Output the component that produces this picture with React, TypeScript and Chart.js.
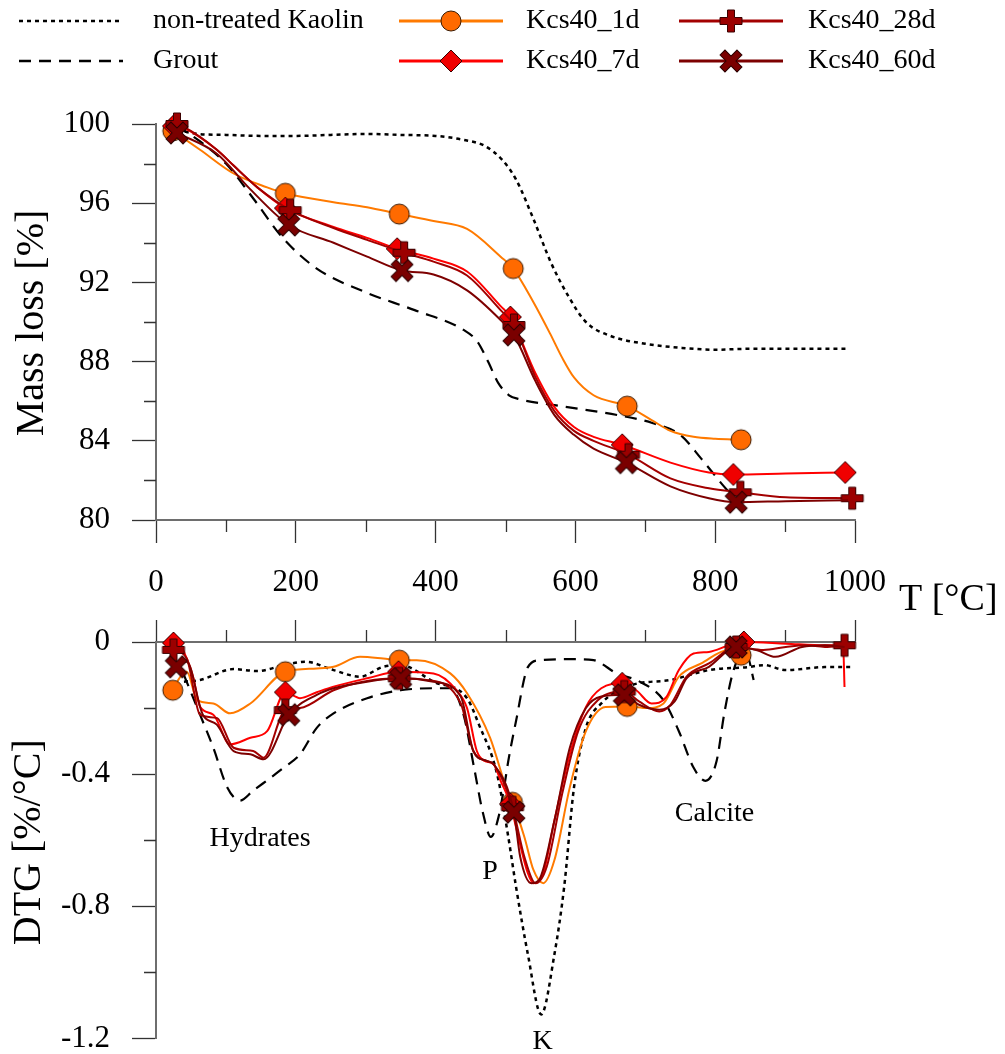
import React, { useEffect, useRef } from 'react';
import { Chart, registerables } from 'chart.js';

Chart.register(...registerables);

const FONT = "'Liberation Serif', 'Times New Roman', Times, serif";

// ---------------- Labels ----------------
const seriesLabels = ['non-treated Kaolin', 'Grout', 'Kcs40_1d', 'Kcs40_7d', 'Kcs40_28d', 'Kcs40_60d'];
const massTitle = 'Mass loss [%]';
const dtgTitle = 'DTG [%/°C]';
const tempTitle = 'T [°C]';
const annotationLabels = ['Hydrates', 'P', 'K', 'Calcite'];
const annotationT = [149, 478, 553, 799];
const annotationV = [-0.617, -0.717, -1.233, -0.541];

// ---------------- Tick values ----------------
const tempMin = 0, tempMax = 1000, tempStep = 200;
const minorTempTicks = [100, 300, 500, 700, 900];
const massMin = 80, massMax = 100, massStep = 4;
const minorMassTicks = [82, 86, 90, 94, 98];
const dtgMin = -1.2, dtgMax = 0, dtgStep = 0.4;
const minorDtgTicks = [-0.2, -0.6, -1.0];

// ---------------- Top panel: mass loss [%] ----------------
const kaolinMassT = [30, 60, 100, 150, 200, 250, 300, 350, 400, 440, 470, 495, 515, 540, 565, 590, 615, 650, 700, 750, 800, 850, 900, 950, 990];
const kaolinMass = [99.7, 99.5, 99.45, 99.4, 99.4, 99.45, 99.5, 99.45, 99.4, 99.2, 98.9, 98.2, 97.2, 95.2, 93.0, 91.3, 90.0, 89.3, 88.9, 88.7, 88.6, 88.65, 88.65, 88.65, 88.65];

const groutMassT = [30, 60, 100, 140, 180, 230, 300, 370, 440, 460, 475, 490, 505, 520, 570, 660, 710, 750, 780, 810, 820];
const groutMass = [99.9, 99.2, 98.0, 96.2, 94.3, 92.7, 91.5, 90.6, 89.6, 89.0, 88.0, 86.9, 86.3, 86.1, 85.8, 85.3, 84.9, 84.3, 83.1, 81.8, 81.4];

const d1MassT = [24, 63, 111, 159, 185, 254, 302, 348, 397, 445, 493, 511, 540, 564, 581, 598, 626, 674, 709, 736, 769, 800, 837];
const d1Mass = [99.65, 98.7, 97.5, 96.8, 96.5, 96.05, 95.8, 95.45, 95.1, 94.7, 93.3, 92.7, 91.0, 89.4, 88.2, 87.2, 86.3, 85.75, 85.05, 84.5, 84.2, 84.1, 84.05];
const d1MassMarks = [24, 185, 348, 511, 674, 837];

const d7MassT = [25, 40, 87, 111, 145, 185, 254, 302, 345, 397, 445, 493, 507, 543, 570, 598, 626, 667, 736, 791, 826, 901, 986];
const d7Mass = [99.9, 99.8, 98.7, 97.9, 96.8, 95.75, 94.8, 94.25, 93.7, 93.2, 92.55, 90.8, 90.25, 87.4, 85.7, 84.7, 84.2, 83.8, 82.9, 82.4, 82.3, 82.35, 82.4];
const d7MassMarks = [25, 185, 345, 507, 667, 826, 986];

const d28MassT = [30, 40, 87, 111, 145, 192, 254, 302, 355, 397, 445, 493, 512, 543, 570, 598, 626, 676, 736, 791, 836, 901, 996];
const d28Mass = [100.0, 99.85, 98.7, 97.9, 96.8, 95.65, 94.75, 94.15, 93.5, 93.05, 92.35, 90.6, 89.85, 87.2, 85.5, 84.5, 84.0, 83.3, 82.1, 81.6, 81.4, 81.15, 81.1];
const d28MassMarks = [30, 192, 355, 512, 676, 836, 996];

const d60MassT = [30, 87, 135, 190, 254, 302, 352, 397, 445, 493, 512, 543, 570, 598, 626, 673, 736, 791, 830, 901, 990];
const d60Mass = [99.55, 98.5, 96.7, 94.9, 94.0, 93.3, 92.6, 92.4, 91.6, 90.1, 89.35, 87.0, 85.3, 84.3, 83.6, 82.9, 81.7, 81.1, 80.9, 80.95, 81.0];
const d60MassMarks = [30, 190, 352, 512, 673, 830];

// ---------------- Bottom panel: DTG [%/°C] ----------------
const kaolinDtgT = [40, 63, 111, 145, 183, 214, 254, 292, 325, 350, 397, 445, 462, 488, 504, 515, 532, 551, 570, 584, 598, 615, 637, 681, 736, 791, 846, 870, 901, 957, 996];
const kaolinDtg = [-0.12, -0.115, -0.082, -0.088, -0.07, -0.06, -0.085, -0.105, -0.075, -0.07, -0.12, -0.17, -0.25, -0.4, -0.59, -0.74, -0.945, -1.127, -0.945, -0.74, -0.44, -0.26, -0.186, -0.13, -0.115, -0.085, -0.076, -0.07, -0.085, -0.076, -0.076];

const groutDtgT = [40, 63, 82, 102, 120, 139, 183, 206, 230, 254, 302, 350, 397, 421, 440, 455, 468, 479, 490, 498, 504, 515, 532, 549, 598, 626, 659, 692, 726, 748, 769, 786, 802, 813, 825, 836, 846, 855];
const groutDtg = [-0.1, -0.22, -0.32, -0.44, -0.48, -0.45, -0.38, -0.34, -0.26, -0.216, -0.17, -0.146, -0.14, -0.14, -0.22, -0.38, -0.52, -0.59, -0.53, -0.44, -0.36, -0.24, -0.076, -0.055, -0.052, -0.055, -0.095, -0.12, -0.176, -0.27, -0.38, -0.42, -0.36, -0.216, -0.095, -0.045, -0.045, -0.115];

const d1DtgT = [24, 35, 44, 59, 82, 106, 135, 185, 230, 254, 292, 325, 348, 373, 421, 445, 478, 504, 510, 527, 540, 554, 570, 592, 615, 643, 674, 703, 726, 748, 780, 819, 837, 846];
const d1Dtg = [-0.146, -0.105, -0.09, -0.176, -0.186, -0.216, -0.186, -0.09, -0.08, -0.075, -0.045, -0.05, -0.055, -0.055, -0.095, -0.155, -0.29, -0.46, -0.485, -0.59, -0.69, -0.73, -0.66, -0.44, -0.27, -0.197, -0.195, -0.2, -0.186, -0.105, -0.065, -0.024, -0.04, -0.04];
const d1DtgMarks = [24, 185, 348, 510, 674, 837];

const d7DtgT = [25, 30, 44, 53, 63, 82, 106, 135, 159, 185, 206, 230, 254, 302, 347, 397, 430, 445, 459, 470, 483, 493, 507, 515, 532, 540, 554, 570, 592, 615, 637, 667, 687, 709, 730, 748, 769, 791, 820, 841, 901, 957, 983, 985];
const d7Dtg = [-0.003, 0, -0.05, -0.105, -0.196, -0.22, -0.31, -0.29, -0.27, -0.152, -0.17, -0.152, -0.135, -0.11, -0.09, -0.095, -0.146, -0.2, -0.33, -0.36, -0.37, -0.42, -0.49, -0.56, -0.7, -0.73, -0.7, -0.54, -0.34, -0.197, -0.14, -0.125, -0.146, -0.186, -0.167, -0.085, -0.035, -0.03, -0.01, 0, -0.005, -0.01, -0.01, -0.136];
const d7DtgMarks = [25, 185, 347, 507, 667, 841];

const d28DtgT = [25, 44, 63, 87, 111, 139, 154, 185, 206, 254, 302, 348, 387, 436, 454, 473, 483, 510, 527, 543, 559, 581, 604, 632, 670, 691, 720, 736, 759, 791, 830, 869, 901, 929, 957, 985];
const d28Dtg = [-0.024, -0.05, -0.22, -0.23, -0.32, -0.33, -0.35, -0.206, -0.2, -0.146, -0.118, -0.11, -0.115, -0.186, -0.33, -0.36, -0.37, -0.5, -0.65, -0.73, -0.68, -0.46, -0.27, -0.176, -0.15, -0.18, -0.21, -0.19, -0.105, -0.065, -0.015, -0.024, -0.015, -0.01, -0.015, -0.01];
const d28DtgMarks = [25, 185, 348, 510, 670, 830, 985];

const d60DtgT = [29, 44, 67, 87, 111, 135, 154, 190, 230, 254, 302, 350, 397, 436, 454, 473, 483, 512, 521, 537, 548, 570, 592, 615, 637, 670, 691, 720, 742, 759, 791, 830, 860, 886, 924, 957, 985];
const d60Dtg = [-0.075, -0.06, -0.22, -0.25, -0.33, -0.34, -0.355, -0.22, -0.16, -0.14, -0.12, -0.11, -0.12, -0.165, -0.33, -0.36, -0.37, -0.515, -0.65, -0.73, -0.72, -0.54, -0.32, -0.2, -0.165, -0.16, -0.19, -0.205, -0.18, -0.11, -0.075, -0.015, -0.025, -0.045, -0.015, -0.01, -0.015];
const d60DtgMarks = [29, 190, 350, 512, 670, 830];

// ---------------- Styles ----------------
const kaolinColor = '#000000';
const groutColor = '#000000';
const d1Color = '#FF7A00';
const d7Color = '#FF0000';
const d28Color = '#A30000';
const d60Color = '#7D0000';
const kaolinDash = [4, 4];
const groutDash = [12, 8];
const AXIS_COLOR = '#6e6e6e';
const TICK_COLOR = '#333333';

type Markers = { circle: HTMLCanvasElement; diamond: HTMLCanvasElement; plus: HTMLCanvasElement; cross: HTMLCanvasElement };

function makeCanvas(size: number) {
  const c = document.createElement('canvas');
  c.width = size;
  c.height = size;
  return c;
}

function makeMarkers(): Markers {
  const circle = makeCanvas(24);
  {
    const g = circle.getContext('2d')!;
    g.beginPath();
    g.arc(12, 12, 10, 0, Math.PI * 2);
    g.fillStyle = '#FF6A00';
    g.fill();
    g.lineWidth = 1;
    g.strokeStyle = '#3a1a00';
    g.stroke();
  }
  const diamond = makeCanvas(26);
  {
    const g = diamond.getContext('2d')!;
    g.beginPath();
    g.moveTo(13, 2);
    g.lineTo(24, 13);
    g.lineTo(13, 24);
    g.lineTo(2, 13);
    g.closePath();
    g.fillStyle = '#F00000';
    g.fill();
    g.lineWidth = 1;
    g.strokeStyle = '#3a0000';
    g.stroke();
  }
  const plusPath = (g: CanvasRenderingContext2D, h: number, w: number) => {
    g.beginPath();
    g.moveTo(-w, -h); g.lineTo(w, -h); g.lineTo(w, -w); g.lineTo(h, -w);
    g.lineTo(h, w); g.lineTo(w, w); g.lineTo(w, h); g.lineTo(-w, h);
    g.lineTo(-w, w); g.lineTo(-h, w); g.lineTo(-h, -w); g.lineTo(-w, -w);
    g.closePath();
  };
  const plus = makeCanvas(26);
  {
    const g = plus.getContext('2d')!;
    g.translate(13, 13);
    plusPath(g, 11, 3.5);
    g.fillStyle = '#9C0000';
    g.fill();
    g.lineWidth = 1;
    g.strokeStyle = '#3a0000';
    g.stroke();
  }
  const cross = makeCanvas(26);
  {
    const g = cross.getContext('2d')!;
    g.translate(13, 13);
    g.rotate(Math.PI / 4);
    plusPath(g, 12, 3.5);
    g.fillStyle = '#7A0000';
    g.fill();
    g.lineWidth = 1;
    g.strokeStyle = '#2a0000';
    g.stroke();
  }
  return { circle, diamond, plus, cross };
}

function lineDs(label: string, t: number[], v: number[], color: string, width: number, dash: number[], marks: number[], img: any, order: number) {
  return {
    label,
    data: t.map((x, i) => ({ x, y: v[i] })),
    borderColor: color,
    backgroundColor: color,
    borderWidth: width,
    borderDash: dash,
    pointStyle: img || 'circle',
    pointRadius: (ctx: any) => (img && marks.includes(t[ctx.dataIndex]) ? 10 : 0),
    pointHoverRadius: 0,
    pointHitRadius: 0,
    tension: 0.4,
    cubicInterpolationMode: 'monotone',
    clip: false,
    order,
  };
}

function minorTicksPlugin(xVals: number[], yVals: number[], xDir: number) {
  return {
    id: 'minorTicks',
    afterDraw(chart: any) {
      const { ctx, chartArea: a, scales } = chart;
      ctx.save();
      ctx.strokeStyle = TICK_COLOR;
      ctx.lineWidth = 1.3;
      ctx.beginPath();
      xVals.forEach((v) => {
        const px = Math.round(scales.x.getPixelForValue(v)) + 0.5;
        const y0 = xDir > 0 ? a.bottom : a.top;
        ctx.moveTo(px, y0);
        ctx.lineTo(px, y0 + xDir * 12);
      });
      yVals.forEach((v) => {
        const py = Math.round(scales.y.getPixelForValue(v)) + 0.5;
        ctx.moveTo(a.left - 12, py);
        ctx.lineTo(a.left, py);
      });
      ctx.stroke();
      ctx.restore();
    },
  };
}

function rotatedTitle(ctx: CanvasRenderingContext2D, text: string, x: number, y: number, size: number) {
  ctx.save();
  ctx.translate(x, y);
  ctx.rotate(-Math.PI / 2);
  ctx.font = `${size}px ${FONT}`;
  ctx.fillStyle = '#000';
  ctx.textAlign = 'center';
  ctx.textBaseline = 'alphabetic';
  ctx.fillText(text, 0, 0);
  ctx.restore();
}

function legendPlugin(m: Markers) {
  const cols = [
    { x0: 19, x1: 123, tx: 153 },
    { x0: 399, x1: 503, tx: 526 },
    { x0: 679, x1: 783, tx: 808 },
  ];
  const rows = [21, 61];
  const items = [
    { label: seriesLabels[0], c: 0, r: 0, color: kaolinColor, dash: kaolinDash, w: 2.5, img: null as any },
    { label: seriesLabels[1], c: 0, r: 1, color: groutColor, dash: groutDash, w: 2.5, img: null as any },
    { label: seriesLabels[2], c: 1, r: 0, color: d1Color, dash: [], w: 3, img: m.circle },
    { label: seriesLabels[3], c: 1, r: 1, color: d7Color, dash: [], w: 3, img: m.diamond },
    { label: seriesLabels[4], c: 2, r: 0, color: d28Color, dash: [], w: 3, img: m.plus },
    { label: seriesLabels[5], c: 2, r: 1, color: d60Color, dash: [], w: 3, img: m.cross },
  ];
  return {
    id: 'customLegend',
    afterDraw(chart: any) {
      const ctx: CanvasRenderingContext2D = chart.ctx;
      ctx.save();
      items.forEach((it) => {
        const col = cols[it.c];
        const y = rows[it.r];
        ctx.beginPath();
        ctx.setLineDash(it.dash);
        ctx.strokeStyle = it.color;
        ctx.lineWidth = it.w;
        ctx.moveTo(col.x0, y);
        ctx.lineTo(col.x1, y);
        ctx.stroke();
        ctx.setLineDash([]);
        if (it.img) {
          const cx = (col.x0 + col.x1) / 2;
          ctx.drawImage(it.img, cx - it.img.width / 2, y - it.img.height / 2);
        }
        ctx.font = `28px ${FONT}`;
        ctx.fillStyle = '#000';
        ctx.textAlign = 'left';
        ctx.textBaseline = 'middle';
        ctx.fillText(it.label, col.tx, y);
      });
      ctx.restore();
    },
  };
}

const topTitlesPlugin = {
  id: 'topTitles',
  afterDraw(chart: any) {
    const ctx: CanvasRenderingContext2D = chart.ctx;
    const a = chart.chartArea;
    rotatedTitle(ctx, massTitle, 43, (a.top + a.bottom) / 2 + 1, 40);
    ctx.save();
    ctx.font = `38px ${FONT}`;
    ctx.fillStyle = '#000';
    ctx.textAlign = 'left';
    ctx.textBaseline = 'alphabetic';
    ctx.fillText(tempTitle, 899, 610);
    ctx.restore();
  },
};

const bottomTitlesPlugin = {
  id: 'bottomTitles',
  afterDraw(chart: any) {
    const ctx: CanvasRenderingContext2D = chart.ctx;
    const a = chart.chartArea;
    rotatedTitle(ctx, dtgTitle, 40, (a.top + a.bottom) / 2 + 2, 40);
    ctx.save();
    ctx.font = `28px ${FONT}`;
    ctx.fillStyle = '#000';
    ctx.textAlign = 'center';
    ctx.textBaseline = 'alphabetic';
    annotationLabels.forEach((txt, i) => {
      ctx.fillText(txt, chart.scales.x.getPixelForValue(annotationT[i]), chart.scales.y.getPixelForValue(annotationV[i]));
    });
    ctx.restore();
  },
};

const tickFont = { family: FONT, size: 31 };

function topConfig(m: Markers): any {
  return {
    type: 'line',
    data: {
      datasets: [
        lineDs(seriesLabels[0], kaolinMassT, kaolinMass, kaolinColor, 2.5, kaolinDash, [], null, 6),
        lineDs(seriesLabels[1], groutMassT, groutMass, groutColor, 2.2, groutDash, [], null, 5),
        lineDs(seriesLabels[2], d1MassT, d1Mass, d1Color, 2, [], d1MassMarks, m.circle, 4),
        lineDs(seriesLabels[3], d7MassT, d7Mass, d7Color, 2, [], d7MassMarks, m.diamond, 3),
        lineDs(seriesLabels[4], d28MassT, d28Mass, d28Color, 2, [], d28MassMarks, m.plus, 2),
        lineDs(seriesLabels[5], d60MassT, d60Mass, d60Color, 2, [], d60MassMarks, m.cross, 1),
      ],
    },
    options: {
      responsive: false,
      animation: false,
      events: [],
      layout: { padding: { top: 124, right: 150, left: 0, bottom: 0 } },
      plugins: { legend: { display: false }, tooltip: { enabled: false } },
      scales: {
        x: {
          type: 'linear',
          position: 'bottom',
          min: tempMin,
          max: tempMax,
          ticks: {
            stepSize: tempStep,
            font: tickFont,
            color: '#000',
            padding: 21,
            maxRotation: 0,
            autoSkip: false,
            callback: (v: number) => String(Math.round(v)),
          },
          grid: { drawOnChartArea: false, drawTicks: true, tickLength: 23, tickColor: TICK_COLOR, tickWidth: 1.3 },
          border: { display: true, color: AXIS_COLOR, width: 2 },
          afterFit: (s: any) => { s.height = 1054 - 520; },
        },
        y: {
          type: 'linear',
          position: 'left',
          min: massMin,
          max: massMax,
          ticks: { stepSize: massStep, font: { ...tickFont, lineHeight: 1 }, color: '#000', padding: 22 },
          grid: { drawOnChartArea: false, drawTicks: true, tickLength: 24, tickColor: TICK_COLOR, tickWidth: 1.3 },
          border: { display: true, color: AXIS_COLOR, width: 2 },
          afterFit: (s: any) => { s.width = 156; },
        },
      },
    },
    plugins: [minorTicksPlugin(minorTempTicks, minorMassTicks, 1), legendPlugin(m), topTitlesPlugin],
  };
}

function bottomConfig(m: Markers): any {
  return {
    type: 'line',
    data: {
      datasets: [
        lineDs(seriesLabels[0], kaolinDtgT, kaolinDtg, kaolinColor, 2.5, kaolinDash, [], null, 6),
        lineDs(seriesLabels[1], groutDtgT, groutDtg, groutColor, 2.2, groutDash, [], null, 5),
        lineDs(seriesLabels[2], d1DtgT, d1Dtg, d1Color, 2, [], d1DtgMarks, m.circle, 4),
        lineDs(seriesLabels[3], d7DtgT, d7Dtg, d7Color, 2, [], d7DtgMarks, m.diamond, 3),
        lineDs(seriesLabels[4], d28DtgT, d28Dtg, d28Color, 2, [], d28DtgMarks, m.plus, 2),
        lineDs(seriesLabels[5], d60DtgT, d60Dtg, d60Color, 2, [], d60DtgMarks, m.cross, 1),
      ],
    },
    options: {
      responsive: false,
      animation: false,
      events: [],
      layout: { padding: { top: 0, right: 150, left: 0, bottom: 17 } },
      plugins: { legend: { display: false }, tooltip: { enabled: false } },
      scales: {
        x: {
          type: 'linear',
          position: 'top',
          min: tempMin,
          max: tempMax,
          ticks: { stepSize: tempStep, display: false },
          grid: { drawOnChartArea: false, drawTicks: true, tickLength: 22, tickColor: TICK_COLOR, tickWidth: 1.3 },
          border: { display: true, color: AXIS_COLOR, width: 2 },
          afterFit: (s: any) => { s.height = 642; },
        },
        y: {
          type: 'linear',
          position: 'left',
          min: dtgMin,
          max: dtgMax,
          ticks: {
            stepSize: dtgStep,
            font: { ...tickFont, lineHeight: 1 },
            color: '#000',
            padding: 22,
            callback: (v: number) => (Math.abs(v) < 1e-9 ? '0' : Number(v).toFixed(1)),
          },
          grid: { drawOnChartArea: false, drawTicks: true, tickLength: 24, tickColor: TICK_COLOR, tickWidth: 1.3 },
          border: { display: true, color: AXIS_COLOR, width: 2 },
          afterFit: (s: any) => { s.width = 156; },
        },
      },
    },
    plugins: [minorTicksPlugin(minorTempTicks, minorDtgTicks, -1), bottomTitlesPlugin],
  };
}

export default function App() {
  const topRef = useRef<HTMLCanvasElement>(null);
  const botRef = useRef<HTMLCanvasElement>(null);

  useEffect(() => {
    const m = makeMarkers();
    const top = new Chart(topRef.current as HTMLCanvasElement, topConfig(m));
    const bot = new Chart(botRef.current as HTMLCanvasElement, bottomConfig(m));
    return () => {
      top.destroy();
      bot.destroy();
    };
  }, []);

  return (
    <div style={{ position: 'absolute', left: 0, top: 0, width: 1005, height: 1054, overflow: 'hidden', background: '#fff' }}>
      <canvas ref={topRef} width={1005} height={1054} style={{ position: 'absolute', left: 0, top: 0 }} />
      <canvas ref={botRef} width={1005} height={1076} style={{ position: 'absolute', left: 0, top: 0 }} />
    </div>
  );
}
